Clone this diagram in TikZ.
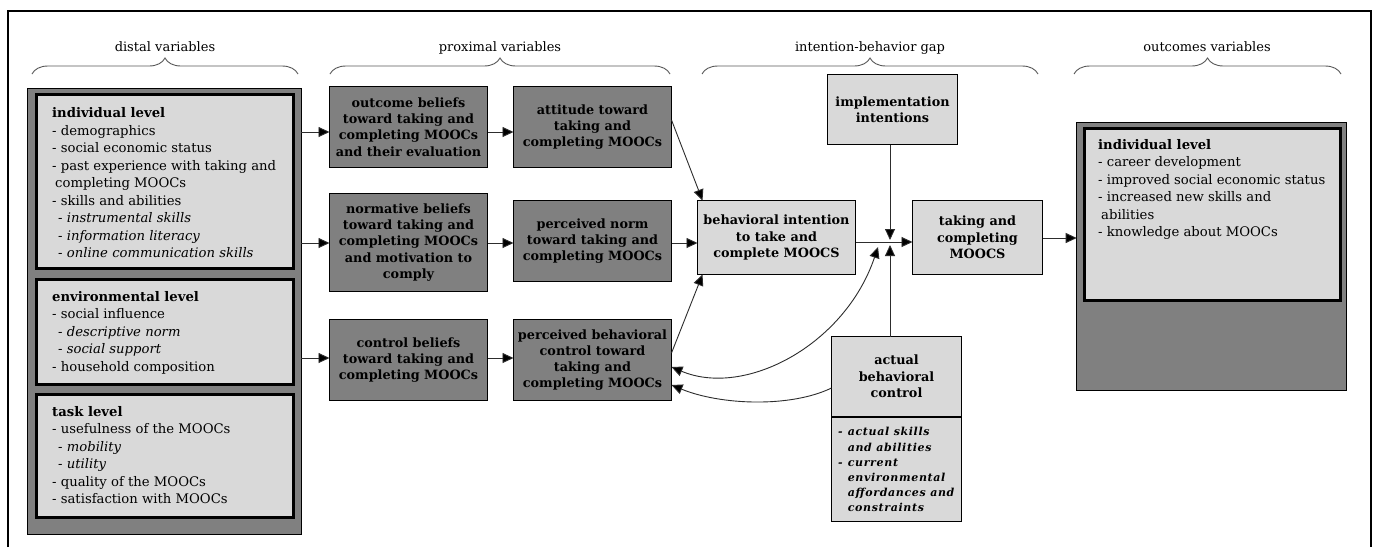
\documentclass[tikz,border=0pt]{standalone}
\usepackage{fontspec}
\setmainfont{DejaVu Serif}
\usetikzlibrary{arrows.meta,decorations.pathreplacing}
\definecolor{darkfill}{RGB}{128,128,128}
\definecolor{lightfill}{RGB}{217,217,217}
\definecolor{lnk}{RGB}{45,45,45}
\newcommand{\lstfnt}{\fontsize{13.2}{17.5}\selectfont}
\newcommand{\boxfnt}{\fontsize{12.8}{16.3}\selectfont\bfseries}
\newcommand{\hdrfnt}{\fontsize{13}{16}\selectfont}
\newcommand{\abcfnt}{\fontsize{11}{15.2}\selectfont\bfseries\itshape\addfontfeature{LetterSpace=6}}
\begin{document}
\begin{tikzpicture}[x=1pt,y=-1pt,
 dark/.style={draw=black,line width=1.3pt,fill=darkfill,align=center,font=\boxfnt,inner sep=0pt,outer sep=0pt,minimum width=158pt,minimum height=81pt},
 light/.style={draw=black,line width=1.3pt,fill=lightfill,align=center,font=\boxfnt,inner sep=0pt,outer sep=0pt},
 lvl/.style={draw=black,line width=3pt,fill=lightfill,inner sep=0pt,outer sep=0pt,anchor=north west},
 outerbox/.style={draw=black,line width=1.3pt,fill=darkfill,inner sep=0pt,outer sep=0pt,anchor=north west},
 lst/.style={anchor=north west,inner sep=0pt,font=\lstfnt},
 hdr/.style={font=\hdrfnt,inner sep=0pt,anchor=base},
 conn/.style={draw=lnk,line width=0.9pt},
 tip/.style={-{Triangle[length=11pt,width=10pt,fill=black]}},
 tips/.style={{Triangle[length=11pt,width=10pt,fill=black]}-{Triangle[length=11pt,width=10pt,fill=black]}},
 brc/.style={draw=black!65,line width=0.9pt,decorate,decoration={brace,amplitude=16pt}}]

\useasboundingbox (0,0) rectangle (1375,547);
\fill[white] (0,0) rectangle (1375,547);
\draw[black,line width=1.2pt] (8,547) -- (8,11) -- (1371,11) -- (1371,547);

% headers and braces
\node[hdr] (hd1) at (165,51) {distal variables};
\node[hdr] (hd2) at (500,51) {proximal variables};
\node[hdr] (hd3) at (870,51) {intention-behavior gap};
\node[hdr] (hd4) at (1207,51) {outcomes variables};
\draw[brc] (32,74) -- (298,74);
\draw[brc] (330,74) -- (670,74);
\draw[brc] (702,74) -- (1038,74);
\draw[brc] (1074,74) -- (1341,74);

% distal variables
\node[outerbox,minimum width=273.6pt,minimum height=445.6pt] (distal) at (27.7,88.7) {};
\node[lvl,minimum width=257pt,minimum height=174pt] (ind) at (36.5,94.5) {};
\node[lvl,minimum width=257pt,minimum height=105pt] (env) at (36.5,279.5) {};
\node[lvl,minimum width=257pt,minimum height=123pt] (task) at (36.5,394.5) {};
\node[lst] (tind) at (52,105.5) {\begin{tabular}{@{}l@{}}\textbf{individual level}\\- demographics\\- social economic status\\- past experience with taking and\\\hspace*{3pt}completing MOOCs\\- skills and abilities\\\hspace*{6pt}\textit{- instrumental skills}\\\hspace*{6pt}\textit{- information literacy}\\\hspace*{6pt}\textit{- online communication skills}\end{tabular}};
\node[lst] (tenv) at (52,289) {\begin{tabular}{@{}l@{}}\textbf{environmental level}\\- social influence\\\hspace*{6pt}\textit{- descriptive norm}\\\hspace*{6pt}\textit{- social support}\\- household composition\end{tabular}};
\node[lst] (ttask) at (52,404) {\begin{tabular}{@{}l@{}}\textbf{task level}\\- usefulness of the MOOCs\\\hspace*{6pt}\textit{- mobility}\\\hspace*{6pt}\textit{- utility}\\- quality of the MOOCs\\- satisfaction with MOOCs\end{tabular}};

% proximal variables
\node[dark] (ob) at (408.5,127) {outcome beliefs\\toward taking and\\completing MOOCs\\and their evaluation};
\node[dark] (att) at (592.5,127) {attitude toward\\taking and\\completing MOOCs};
\node[dark,minimum height=98pt] (nb) at (408.5,242.5) {normative beliefs\\toward taking and\\completing MOOCs\\and motivation to\\comply};
\node[dark] (pn) at (592.5,241) {perceived norm\\toward taking and\\completing MOOCs};
\node[dark] (cb) at (408.5,360) {control beliefs\\toward taking and\\completing MOOCs};
\node[dark] (pbc) at (592.5,360) {perceived behavioral\\control toward\\taking and\\completing MOOCs};

% intention-behavior gap
\node[light,minimum width=158pt,minimum height=74pt] (bi) at (776.5,237.5) {behavioral intention\\to take and\\complete MOOCS};
\node[light,minimum width=130pt,minimum height=74pt] (tk) at (977.5,237.5) {taking and\\completing\\MOOCS};
\node[light,minimum width=130pt,minimum height=70pt] (impl) at (892.5,109.5) {implementation\\intentions};
\node[light,minimum width=130pt,minimum height=80pt] (abct) at (896.5,376.5) {actual\\behavioral\\control};
\node[light,minimum width=130pt,minimum height=104pt] (abcb) at (896.5,469.5) {};
\node[anchor=north west,inner sep=0pt,font=\abcfnt] (tabc) at (838,425) {\begin{tabular}{@{}l@{\hspace{5pt}}l@{}}-&actual skills\\&and abilities\\-&current\\&environmental\\&affordances and\\&constraints\end{tabular}};

% outcomes
\node[outerbox,minimum width=269.6pt,minimum height=267.6pt] (outo) at (1076.7,122.7) {};
\node[lvl,minimum width=256pt,minimum height=172pt] (outi) at (1084.5,128.5) {};
\node[lst] (tout) at (1098,137) {\begin{tabular}{@{}l@{}}\textbf{individual level}\\- career development\\- improved social economic status\\- increased new skills and\\\hspace*{3pt}abilities\\- knowledge about MOOCs\end{tabular}};

% helper coordinates
\coordinate (r1) at (0,132);
\coordinate (r2) at (0,243);
\coordinate (r3) at (0,358);
\coordinate (cr) at (890,242);
\coordinate (crD) at (890,240);
\coordinate (crU) at (890,245);
\coordinate (crC) at (878,247);
\coordinate (a1) at (0,120);
\coordinate (a2) at (0,353);
\coordinate (a3) at (0,367);
\coordinate (a4) at (0,385);
\coordinate (a5) at (0,388);
\coordinate (a6) at (0,238);

% connectors
\draw[conn,tip] (distal.east |- r1) -- (ob.west |- r1);
\draw[conn,tip] (distal.east |- r2) -- (nb.west |- r2);
\draw[conn,tip] (distal.east |- r3) -- (cb.west |- r3);
\draw[conn,tip] (ob.east |- r1) -- (att.west |- r1);
\draw[conn,tip] (nb.east |- r2) -- (pn.west |- r2);
\draw[conn,tip] (cb.east |- r3) -- (pbc.west |- r3);
\draw[conn,tip] (att.east |- a1) -- ([xshift=5pt]bi.north west);
\draw[conn,tip] (pn.east |- r2) -- (bi.west |- r2);
\draw[conn,tip] (pbc.east |- a2) -- ([xshift=5pt]bi.south west);
\draw[conn,tip] (bi.east |- cr) -- (tk.west |- cr);
\draw[conn,tip] (impl.south -| cr) -- (crD);
\draw[conn,tip] (abct.north -| cr) -- (crU);
\draw[conn,tips] (pbc.east |- a3) .. controls (745,398) and (845,345) .. (crC);
\draw[conn,tip] (abct.west |- a5) .. controls (790,408) and (720,405) .. (pbc.east |- a4);
\draw[conn,tip] (tk.east |- a6) -- (outo.west |- a6);
\end{tikzpicture}
\end{document}
